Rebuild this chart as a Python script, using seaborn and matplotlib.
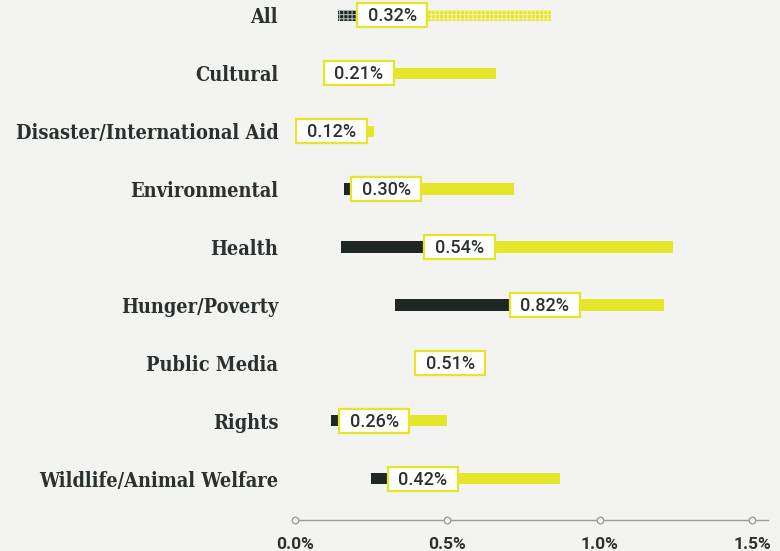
import numpy as np
import pandas as pd
import matplotlib.pyplot as plt
import seaborn as sns
from matplotlib.patches import Rectangle

# Range of giving per cause area (low / median / high, in %)
CATEGORIES = ["All", "Cultural", "Disaster/International Aid", "Environmental",
              "Health", "Hunger/Poverty", "Public Media", "Rights",
              "Wildlife/Animal Welfare"]
LOW = [0.14, 0.10, 0.05, 0.16, 0.15, 0.33, 0.51, 0.12, 0.25]
MEDIAN = [0.32, 0.21, 0.12, 0.30, 0.54, 0.82, 0.51, 0.26, 0.42]
HIGH = [0.84, 0.66, 0.26, 0.72, 1.24, 1.21, 0.51, 0.50, 0.87]
XTICKS = [0.0, 0.5, 1.0, 1.5]
XTICK_LABELS = ["0.0%", "0.5%", "1.0%", "1.5%"]

BG = "#f3f3f2"
YELLOW = "#e5e52a"
DARK = "#1f2724"
TEXT = "#2b312e"
AXIS_GRAY = "#9a9a9a"

sns.set_theme(style="white")
plt.rcParams["hatch.linewidth"] = 0.8

df = pd.DataFrame({"category": CATEGORIES, "low": LOW,
                   "median": MEDIAN, "high": HIGH})

fig = plt.figure(figsize=(7.8, 5.51), dpi=100, facecolor=BG)
ax = fig.add_axes([0.378, 0.0563, 0.606, 0.9437], facecolor=BG)

bar_w = 0.19
# layered bars: yellow up to high, dark up to median, background up to low
sns.barplot(data=df, x="high", y="category", color=YELLOW, width=bar_w,
            saturation=1, linewidth=0, ax=ax, orient="h")
sns.barplot(data=df, x="median", y="category", color=DARK, width=bar_w,
            saturation=1, linewidth=0, ax=ax, orient="h")
sns.barplot(data=df, x="low", y="category", color=BG, width=bar_w,
            saturation=1, linewidth=0, ax=ax, orient="h")

# grid texture on the "All" row
ax.containers[0][0].set_hatch("++++")
ax.containers[0][0].set_edgecolor("#f2f2a8")
ax.containers[1][0].set_hatch("++++")
ax.containers[1][0].set_edgecolor("#b0b4b2")

# median label boxes
box_w, box_h = 0.23, 0.43
for i, m in enumerate(MEDIAN):
    ax.add_patch(Rectangle((m - box_w / 2, i - box_h / 2), box_w, box_h,
                           facecolor="white", edgecolor=YELLOW, lw=1.6, zorder=5))
    ax.text(m, i + 0.02, f"{m:.2f}%", ha="center", va="center", zorder=6,
            fontsize=13, family="Roboto", fontweight="medium", color=TEXT)

ax.set_xlim(0, 1.55)
ax.set_ylim(8.707, -0.259)
ax.set_xticks(XTICKS)
ax.set_xticklabels(XTICK_LABELS, family="Roboto", fontweight="bold",
                   fontsize=12.5, color=TEXT)
ax.set_yticks(range(len(CATEGORIES)))
ax.set_yticklabels(CATEGORIES, family="DejaVu Serif", fontstretch="condensed",
                   fontweight="bold", fontsize=14.3, color=TEXT,
                   va="center_baseline")
ax.tick_params(axis="y", length=0, pad=12)
ax.tick_params(axis="x", length=0, pad=12)
ax.set_xlabel("")
ax.set_ylabel("")

for side in ["top", "right", "left"]:
    ax.spines[side].set_visible(False)
ax.spines["bottom"].set_color(AXIS_GRAY)
ax.spines["bottom"].set_linewidth(1.0)

# circle markers on the axis line
sns.scatterplot(x=XTICKS, y=[8.707] * len(XTICKS), ax=ax, s=22,
                facecolor="white", edgecolor=AXIS_GRAY, linewidth=1.0,
                clip_on=False, zorder=7, legend=False)

fig.savefig("out.png", dpi=100, facecolor=BG)
